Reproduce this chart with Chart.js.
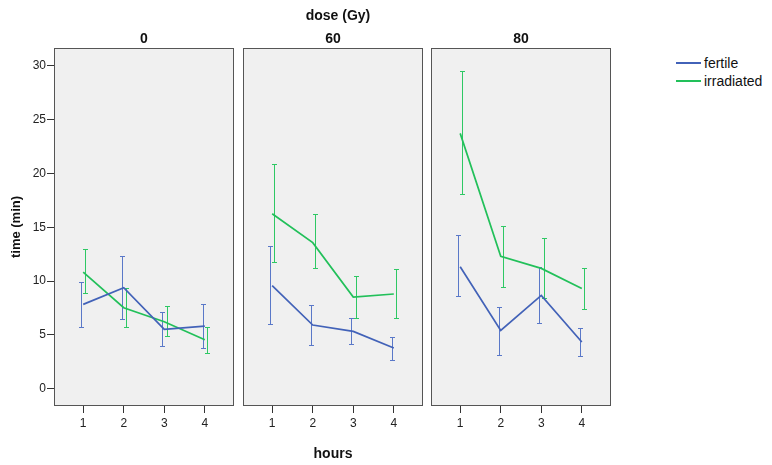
<!DOCTYPE html>
<html>
<head>
<meta charset="utf-8">
<script src="https://cdn.jsdelivr.net/npm/chart.js@4.4.1/dist/chart.umd.min.js"></script>
<style>
  body { margin: 0; background: #fff; font-family: "Liberation Sans", Arial, sans-serif; }
  #wrap { position: relative; width: 772px; height: 465px; overflow: hidden; }
  canvas { position: absolute; top: 0; }
  .t { position: absolute; font-weight: bold; font-size: 14px; color: #111;
       transform: translate(-50%, -50%); white-space: nowrap; }
  .leg { position: absolute; left: 676px; width: 25px; height: 2px; }
  .legt { position: absolute; left: 704px; font-size: 14px; color: #111;
          transform: translateY(-50%); white-space: nowrap; }
</style>
</head>
<body>
<div id="wrap">
  <canvas id="p0" width="235" height="465" style="left:0px"></canvas>
  <canvas id="p1" width="182" height="465" style="left:242px"></canvas>
  <canvas id="p2" width="182" height="465" style="left:430px"></canvas>
  <div class="t" style="left:338px;top:15px">dose (Gy)</div>
  <div class="t" id="d0" style="left:144px;top:38px"></div>
  <div class="t" id="d1" style="left:333px;top:38px"></div>
  <div class="t" id="d2" style="left:521px;top:38px"></div>
  <div class="t" style="left:333px;top:453px">hours</div>
  <div class="leg" style="top:62px;background:#4262b8"></div>
  <div class="legt" style="top:63px">fertile</div>
  <div class="leg" style="top:80px;background:#22c05a"></div>
  <div class="legt" style="top:81px">irradiated</div>
</div>
<script>
// panels and x categories
const doses = ["0", "60", "80"];
const hours = [1, 2, 3, 4];
const yTicks = [0, 5, 10, 15, 20, 25, 30];

// one row per dose panel, one value per hour
const fertileMean = [[7.84, 9.38, 5.51, 5.82], [9.57, 5.92, 5.33, 3.78], [11.33, 5.42, 8.67, 4.34]];
const fertileLow  = [[5.70, 6.47, 4.00, 3.78], [6.01, 4.06, 4.15, 2.63], [8.58, 3.16, 6.07, 3.04]];
const fertileHigh = [[9.94, 12.35, 7.09, 7.84], [13.22, 7.74, 6.54, 4.80], [14.24, 7.62, 11.30, 5.61]];

const irradMean = [[10.84, 7.53, 6.23, 4.55], [16.26, 13.57, 8.52, 8.80], [23.72, 12.30, 11.18, 9.32]];
const irradLow  = [[8.86, 5.73, 4.93, 3.28], [11.77, 11.21, 6.54, 6.54], [18.11, 9.45, 8.45, 7.43]];
const irradHigh = [[12.97, 9.32, 7.71, 5.73], [20.90, 16.22, 10.44, 11.09], [29.48, 15.14, 13.97, 11.21]];

const BLUE = "#4262b8";
const GREEN = "#22c05a";

// grey panel background and frame
const framePlugin = {
  id: "frame",
  beforeDatasetsDraw(chart) {
    const { ctx, chartArea: a } = chart;
    ctx.save();
    ctx.fillStyle = "#f0f0f0";
    ctx.fillRect(a.left, a.top, a.width, a.height);
    ctx.strokeStyle = "#555";
    ctx.lineWidth = 1;
    ctx.strokeRect(a.left + 0.5, a.top + 0.5, a.width - 1, a.height - 1);
    ctx.restore();
  },
};

// error bars, drawn from lo/hi arrays on the datasets
const errorBarPlugin = {
  id: "errorBars",
  beforeDatasetsDraw(chart) {
    const { ctx, scales: { x, y } } = chart;
    chart.data.datasets.forEach((ds) => {
      ctx.save();
      ctx.strokeStyle = ds.errColor;
      ctx.lineWidth = 1;
      ds.data.forEach((p, i) => {
        const px = Math.round(x.getPixelForValue(p.x + ds.dodge)) + 0.5;
        const top = Math.round(y.getPixelForValue(ds.hi[i])) + 0.5;
        const bot = Math.round(y.getPixelForValue(ds.lo[i])) + 0.5;
        ctx.beginPath();
        ctx.moveTo(px, top);
        ctx.lineTo(px, bot);
        ctx.moveTo(px - 2.5, top);
        ctx.lineTo(px + 2.5, top);
        ctx.moveTo(px - 2.5, bot);
        ctx.lineTo(px + 2.5, bot);
        ctx.stroke();
      });
      ctx.restore();
    });
  },
};

const makePanel = (idx) => {
  document.getElementById("d" + idx).textContent = doses[idx];
  const first = idx === 0;
  const series = (label, mean, lo, hi, color, errColor, dodge) => ({
    label,
    data: hours.map((h, i) => ({ x: h, y: mean[idx][i] })),
    lo: lo[idx],
    hi: hi[idx],
    dodge,
    errColor,
    borderColor: color,
    borderWidth: 1.7,
    pointRadius: 0,
    tension: 0,
  });

  new Chart(document.getElementById("p" + idx), {
    type: "line",
    data: {
      datasets: [
        series("fertile", fertileMean, fertileLow, fertileHigh, BLUE, "#5a78c8", -0.055),
        series("irradiated", irradMean, irradLow, irradHigh, GREEN, "#2ec864", 0.055),
      ],
    },
    plugins: [framePlugin, errorBarPlugin],
    options: {
      responsive: false,
      animation: false,
      layout: { padding: { top: 48, left: first ? 0 : 1, right: 1, bottom: 0 } },
      plugins: { legend: { display: false }, tooltip: { enabled: false } },
      scales: {
        x: {
          type: "linear",
          min: 0.28,
          max: 4.72,
          afterBuildTicks: (axis) => { axis.ticks = hours.map((v) => ({ value: v })); },
          afterFit: (axis) => { axis.height = 59; },
          grid: { drawOnChartArea: false, tickLength: 7, color: "#333" },
          border: { display: false },
          ticks: { color: "#222", font: { size: 12, family: "Liberation Sans" }, padding: 3 },
        },
        y: {
          display: first,
          min: -1.6,
          max: 31.65,
          afterBuildTicks: (axis) => { axis.ticks = yTicks.map((v) => ({ value: v })); },
          afterFit: (axis) => { axis.width = first ? 54 : 0; },
          grid: { drawOnChartArea: false, tickLength: 7, color: "#333" },
          border: { display: false },
          ticks: { color: "#222", font: { size: 12, family: "Liberation Sans" }, padding: 1 },
          title: {
            display: true,
            text: "time (min)",
            color: "#111",
            font: { size: 13, weight: "bold", family: "Liberation Sans" },
            padding: { top: 9, bottom: 0 },
          },
        },
      },
    },
  });
};

doses.forEach((d, i) => makePanel(i));
</script>
</body>
</html>
